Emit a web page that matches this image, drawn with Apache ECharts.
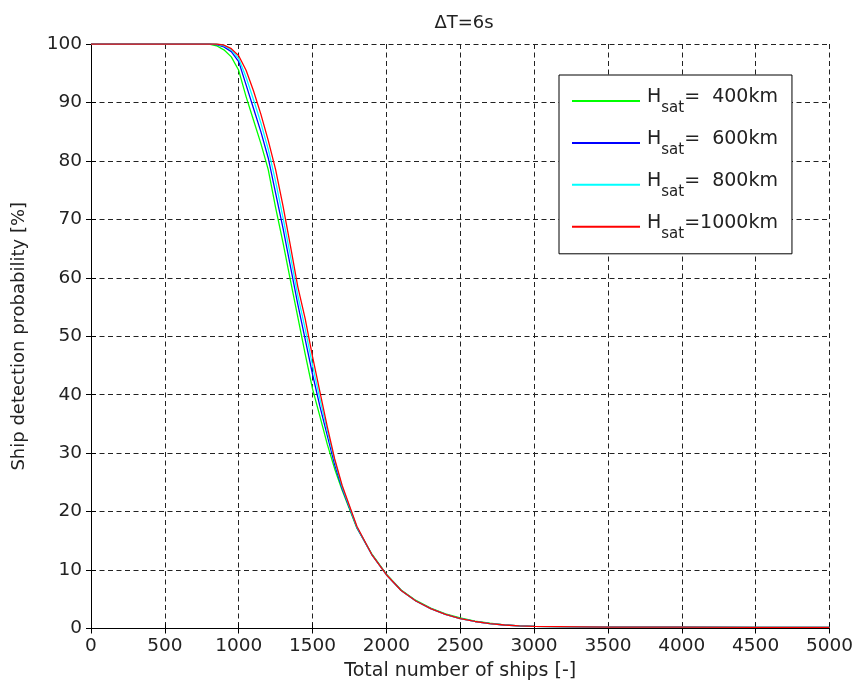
<!DOCTYPE html>
<html>
<head>
<meta charset="utf-8">
<script src="https://cdn.jsdelivr.net/npm/echarts@6/dist/echarts.min.js"></script>
<style>html,body{margin:0;padding:0;background:#fff;}#chart{width:856px;height:690px;}</style>
</head>
<body>
<div id="chart"></div>
<script>
// ---- data ----
const titleText = 'ΔT=6s';
const xName = 'Total number of ships [-]';
const yName = 'Ship detection probability [%]';
const xTicks = [0, 500, 1000, 1500, 2000, 2500, 3000, 3500, 4000, 4500, 5000];
const yTicks = [0, 10, 20, 30, 40, 50, 60, 70, 80, 90, 100];
const seriesNames = ['H_sat=  400km', 'H_sat=  600km', 'H_sat=  800km', 'H_sat=1000km'];
const shipCounts = [0, 800, 850, 900, 950, 1000, 1050, 1100, 1150, 1200, 1250, 1300, 1350, 1400, 1450, 1500, 1550, 1600, 1650, 1700, 1800, 1900, 2000, 2100, 2200, 2300, 2400, 2500, 2600, 2700, 2800, 2900, 3000, 3500, 4000, 4500, 5000];
const prob400  = [100, 100, 99.7, 99.0, 97.8, 95.5, 91.0, 87.0, 83.0, 78.5, 72.0, 66.0, 59.6, 53.3, 47.0, 41.0, 36.3, 31.5, 27.3, 23.7, 17.2, 12.8, 9.3, 6.6, 4.8, 3.5, 2.5, 1.8, 1.25, 0.9, 0.62, 0.45, 0.35, 0.25, 0.22, 0.2, 0.2];
const prob600  = [100, 100, 99.9, 99.5, 98.7, 97.0, 93.0, 89.0, 85.0, 80.5, 74.5, 68.5, 62.0, 55.5, 49.5, 43.5, 38.0, 33.0, 28.0, 24.0, 17.3, 12.7, 9.2, 6.5, 4.7, 3.4, 2.4, 1.7, 1.2, 0.85, 0.6, 0.45, 0.35, 0.25, 0.22, 0.2, 0.2];
const prob800  = [100, 100, 100, 99.7, 99.0, 97.5, 94.3, 90.5, 86.5, 82.0, 76.5, 70.3, 63.8, 57.0, 51.3, 45.0, 39.3, 33.8, 28.7, 24.3, 17.4, 12.7, 9.2, 6.5, 4.7, 3.4, 2.4, 1.7, 1.2, 0.85, 0.6, 0.45, 0.35, 0.25, 0.22, 0.2, 0.2];
const prob1000 = [100, 100, 100, 99.8, 99.2, 98.0, 95.5, 92.0, 88.0, 83.5, 78.5, 72.3, 65.5, 58.5, 53.0, 46.5, 40.5, 34.5, 29.0, 24.5, 17.5, 12.7, 9.2, 6.5, 4.7, 3.4, 2.4, 1.7, 1.2, 0.85, 0.6, 0.45, 0.35, 0.25, 0.22, 0.2, 0.2];
const seriesValues = [prob400, prob600, prob800, prob1000];
const seriesColors = ['#00ff00', '#0000ff', '#00ffff', '#ff0000'];

// ---- chart ----
const FONT = 'DejaVu Sans';
const chart = echarts.init(document.getElementById('chart'), null, {renderer: 'canvas'});

function pairs(vals) { return shipCounts.map((x, i) => [x, vals[i]]); }

const gridLine = {show: true, lineStyle: {color: '#222', type: [5, 3.5], width: 1}};
const axisLine = {show: true, lineStyle: {color: '#000', width: 1}};
const tick = {show: true, inside: true, length: 5, lineStyle: {color: '#000'}};

const option = {
  backgroundColor: '#fff',
  animation: false,
  title: {
    text: titleText, left: 459, top: 9, textAlign: 'center',
    textStyle: {fontFamily: FONT, fontSize: 18, fontWeight: 'normal', color: '#222'}
  },
  grid: {left: 91, right: 26, top: 44, bottom: 61.5, containLabel: false},
  legend: {
    orient: 'vertical', left: 559, top: 75,
    backgroundColor: '#fff', borderColor: '#000', borderWidth: 1,
    padding: [12.5, 14, 12.6, 13],
    icon: 'rect', itemWidth: 68, itemHeight: 2, itemGap: 13.9,
    data: seriesNames,
    formatter: function (name) {
      const rest = name.split('H_sat')[1];
      return '{h|H}{s|sat}{h|' + rest + '}';
    },
    textStyle: {
      fontFamily: FONT, color: '#222', padding: [0, 0, 0, 2],
      rich: {
        h: {fontFamily: FONT, fontSize: 19, color: '#222', padding: [0, 0, 8, 0]},
        s: {fontFamily: FONT, fontSize: 15, color: '#222', padding: [14, 0, 0, 0]}
      }
    }
  },
  xAxis: [{
    type: 'value', min: 0, max: 5000, interval: 500,
    name: xName, nameLocation: 'middle', nameGap: 33,
    nameTextStyle: {fontFamily: FONT, fontSize: 19, color: '#222'},
    axisLine: axisLine, axisTick: tick, splitLine: gridLine,
    axisLabel: {fontFamily: FONT, fontSize: 18.5, color: '#222', margin: 8,
      formatter: v => xTicks.includes(v) ? String(v) : ''}
  }, {
    type: 'value', position: 'top', min: 0, max: 5000, interval: 500,
    axisLine: axisLine, axisTick: tick, splitLine: {show: false}, axisLabel: {show: false}
  }],
  yAxis: [{
    type: 'value', min: 0, max: 100, interval: 10,
    name: yName, nameLocation: 'middle', nameGap: 63,
    nameTextStyle: {fontFamily: FONT, fontSize: 18, color: '#222'},
    axisLine: axisLine, axisTick: tick, splitLine: gridLine,
    axisLabel: {fontFamily: FONT, fontSize: 18.5, color: '#222', margin: 9,
      formatter: v => yTicks.includes(v) ? String(v) : ''}
  }, {
    type: 'value', position: 'right', min: 0, max: 100, interval: 10,
    axisLine: axisLine, axisTick: tick, splitLine: {show: false}, axisLabel: {show: false}
  }],
  series: seriesNames.map((n, i) => ({
    name: n, type: 'line', xAxisIndex: 0, yAxisIndex: 0,
    data: pairs(seriesValues[i]),
    showSymbol: false, symbol: 'none', smooth: false,
    lineStyle: {color: seriesColors[i], width: 1.3},
    itemStyle: {color: seriesColors[i]},
    z: 2 + i
  }))
};
chart.setOption(option);
</script>
</body>
</html>
